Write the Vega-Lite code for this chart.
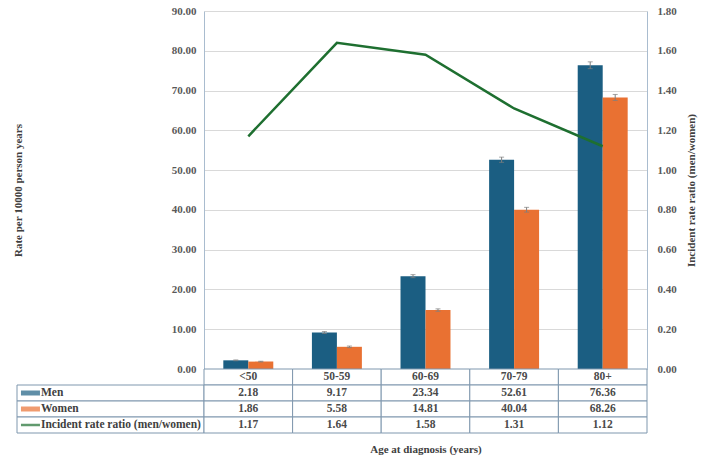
{
  "$schema": "https://vega.github.io/schema/vega-lite/v6.json",
  "padding": {"left": 12, "top": 5, "right": 5, "bottom": 5},
  "background": "white",
  "config": {
    "font": "Liberation Serif",
    "view": {"stroke": null},
    "axis": {
      "labelFont": "Liberation Serif",
      "titleFont": "Liberation Serif",
      "labelFontWeight": "bold",
      "titleFontWeight": "bold",
      "labelFontSize": 11,
      "titleFontSize": 11,
      "labelColor": "#595959",
      "titleColor": "#404040",
      "labelOverlap": false
    }
  },
  "datasets": {
    "rates": [
      {"age": "<50", "sex": "Men", "rate": 2.18, "lo": 2.08, "hi": 2.28},
      {"age": "50-59", "sex": "Men", "rate": 9.17, "lo": 8.93, "hi": 9.41},
      {"age": "60-69", "sex": "Men", "rate": 23.34, "lo": 22.96, "hi": 23.72},
      {"age": "70-79", "sex": "Men", "rate": 52.61, "lo": 51.96, "hi": 53.26},
      {"age": "80+", "sex": "Men", "rate": 76.36, "lo": 75.5, "hi": 77.22},
      {"age": "<50", "sex": "Women", "rate": 1.86, "lo": 1.77, "hi": 1.95},
      {"age": "50-59", "sex": "Women", "rate": 5.58, "lo": 5.39, "hi": 5.77},
      {"age": "60-69", "sex": "Women", "rate": 14.81, "lo": 14.5, "hi": 15.12},
      {"age": "70-79", "sex": "Women", "rate": 40.04, "lo": 39.44, "hi": 40.64},
      {"age": "80+", "sex": "Women", "rate": 68.26, "lo": 67.5, "hi": 69.02}
    ],
    "ratio": [
      {"age": "<50", "ratio": 1.17},
      {"age": "50-59", "ratio": 1.64},
      {"age": "60-69", "ratio": 1.58},
      {"age": "70-79", "ratio": 1.31},
      {"age": "80+", "ratio": 1.12}
    ],
    "series": [
      {"row": "Men"},
      {"row": "Women"},
      {"row": "Incident rate ratio (men/women)"}
    ]
  },
  "columns": 2,
  "spacing": 0,
  "bounds": "flush",
  "resolve": {"scale": {"x": "independent", "y": "independent"}},
  "concat": [
    {
      "width": 187,
      "height": 358,
      "data": {"values": []},
      "mark": {"type": "rect", "opacity": 0}
    },
    {
      "width": 443,
      "height": 358,
      "resolve": {"scale": {"y": "independent"}},
      "layer": [
        {
          "data": {"name": "rates"},
          "encoding": {
            "x": {
              "field": "age",
              "type": "nominal",
              "scale": {"domain": ["<50", "50-59", "60-69", "70-79", "80+"], "paddingInner": 0.436, "paddingOuter": 0.218},
              "axis": {"labels": false, "ticks": false, "domain": false, "grid": false, "title": null}
            },
            "xOffset": {"field": "sex", "type": "nominal", "scale": {"domain": ["Men", "Women"], "paddingInner": 0, "paddingOuter": 0}}
          },
          "layer": [
            {
              "mark": {"type": "bar"},
              "encoding": {
                "y": {
                  "field": "rate",
                  "type": "quantitative",
                  "title": "Rate per 10000 person years",
                  "scale": {"domain": [0, 90]},
                  "axis": {
                    "orient": "left",
                    "values": [0, 10, 20, 30, 40, 50, 60, 70, 80, 90],
                    "format": ".2f",
                    "grid": true,
                    "gridColor": "#d9d9d9",
                    "domainColor": "#a9bccf",
                    "ticks": false,
                    "labelPadding": 8,
                    "titlePadding": 148
                  }
                },
                "color": {"field": "sex", "type": "nominal", "scale": {"domain": ["Men", "Women"], "range": ["#1b5e82", "#e97132"]}, "legend": null}
              }
            },
            {
              "mark": {"type": "rule", "color": "#7f7f7f", "strokeWidth": 1},
              "encoding": {
                "y": {
                  "field": "lo",
                  "type": "quantitative",
                  "title": "Rate per 10000 person years",
                  "axis": {
                    "orient": "left",
                    "values": [0, 10, 20, 30, 40, 50, 60, 70, 80, 90],
                    "format": ".2f",
                    "grid": true,
                    "gridColor": "#d9d9d9",
                    "domainColor": "#a9bccf",
                    "ticks": false,
                    "labelPadding": 8,
                    "titlePadding": 148
                  }
                },
                "y2": {"field": "hi"}
              }
            },
            {
              "mark": {"type": "tick", "orient": "horizontal", "size": 5, "thickness": 1, "color": "#7f7f7f"},
              "encoding": {
                "y": {
                  "field": "lo",
                  "type": "quantitative",
                  "title": "Rate per 10000 person years",
                  "axis": {
                    "orient": "left",
                    "values": [0, 10, 20, 30, 40, 50, 60, 70, 80, 90],
                    "format": ".2f",
                    "grid": true,
                    "gridColor": "#d9d9d9",
                    "domainColor": "#a9bccf",
                    "ticks": false,
                    "labelPadding": 8,
                    "titlePadding": 148
                  }
                }
              }
            },
            {
              "mark": {"type": "tick", "orient": "horizontal", "size": 5, "thickness": 1, "color": "#7f7f7f"},
              "encoding": {
                "y": {
                  "field": "hi",
                  "type": "quantitative",
                  "title": "Rate per 10000 person years",
                  "axis": {
                    "orient": "left",
                    "values": [0, 10, 20, 30, 40, 50, 60, 70, 80, 90],
                    "format": ".2f",
                    "grid": true,
                    "gridColor": "#d9d9d9",
                    "domainColor": "#a9bccf",
                    "ticks": false,
                    "labelPadding": 8,
                    "titlePadding": 148
                  }
                }
              }
            }
          ]
        },
        {
          "data": {"name": "ratio"},
          "mark": {"type": "line", "color": "#1e6f30", "strokeWidth": 2.5},
          "encoding": {
            "x": {
              "field": "age",
              "type": "nominal",
              "axis": {"labels": false, "ticks": false, "domain": false, "grid": false, "title": null}
            },
            "y": {
              "field": "ratio",
              "type": "quantitative",
              "title": "Incident rate ratio (men/women)",
              "scale": {"domain": [0, 1.8]},
              "axis": {
                "orient": "right",
                "values": [0, 0.2, 0.4, 0.6, 0.8, 1, 1.2, 1.4, 1.6, 1.8],
                "format": ".2f",
                "grid": false,
                "ticks": false,
                "domainColor": "#a9bccf",
                "labelPadding": 10,
                "titleAngle": -90,
                "titlePadding": 20
              }
            }
          }
        }
      ]
    },
    {
      "width": 187,
      "height": 64,
      "data": {"name": "series"},
      "encoding": {
        "y": {
          "field": "row",
          "type": "nominal",
          "scale": {"domain": ["header", "Men", "Women", "Incident rate ratio (men/women)"], "paddingInner": 0, "paddingOuter": 0},
          "axis": null
        }
      },
      "layer": [
        {
          "mark": {"type": "rect", "fill": "white", "stroke": "#7f97ae", "strokeWidth": 1}
        },
        {
          "transform": [{"filter": "datum.row !== 'Incident rate ratio (men/women)'"}],
          "mark": {"type": "tick", "orient": "horizontal", "size": 19, "thickness": 5},
          "encoding": {
            "x": {"datum": 0.072, "type": "quantitative", "scale": {"domain": [0, 1]}, "axis": null},
            "color": {"field": "row", "type": "nominal", "scale": {"domain": ["Men", "Women"], "range": ["#1b5e82", "#e97132"]}, "legend": null}
          }
        },
        {
          "transform": [{"filter": "datum.row === 'Incident rate ratio (men/women)'"}],
          "mark": {"type": "tick", "orient": "horizontal", "size": 19, "thickness": 2.5, "color": "#1e6f30"},
          "encoding": {
            "x": {"datum": 0.072, "type": "quantitative"}
          }
        },
        {
          "mark": {"type": "text", "align": "left", "baseline": "middle", "fontWeight": "bold", "fontSize": 11.5, "color": "#404040"},
          "encoding": {
            "x": {"datum": 0.128, "type": "quantitative"},
            "text": {"field": "row"}
          }
        }
      ]
    },
    {
      "width": 443,
      "height": 64,
      "encoding": {
        "x": {
          "field": "age",
          "type": "nominal",
          "scale": {"domain": ["<50", "50-59", "60-69", "70-79", "80+"], "paddingInner": 0, "paddingOuter": 0},
          "axis": {"labels": false, "ticks": false, "domain": false, "grid": false, "title": "Age at diagnosis (years)", "titlePadding": 10}
        }
      },
      "layer": [
        {
          "data": {"name": "ratio"},
          "encoding": {
            "y": {
              "datum": "header",
              "type": "nominal",
              "scale": {"domain": ["header", "Men", "Women", "Incident rate ratio (men/women)"], "paddingInner": 0, "paddingOuter": 0},
              "axis": null
            }
          },
          "layer": [
            {"mark": {"type": "rect", "fill": "white", "stroke": "#7f97ae", "strokeWidth": 1}},
            {
              "mark": {"type": "text", "fontWeight": "bold", "fontSize": 11.5, "color": "#4a4a4a", "baseline": "middle"},
              "encoding": {"text": {"field": "age"}}
            }
          ]
        },
        {
          "data": {"name": "rates"},
          "encoding": {"y": {"field": "sex", "type": "nominal"}},
          "layer": [
            {"mark": {"type": "rect", "fill": "white", "stroke": "#7f97ae", "strokeWidth": 1}},
            {
              "mark": {"type": "text", "fontWeight": "bold", "fontSize": 11.5, "color": "#4a4a4a", "baseline": "middle"},
              "encoding": {"text": {"field": "rate", "type": "quantitative", "format": ".2f"}}
            }
          ]
        },
        {
          "data": {"name": "ratio"},
          "encoding": {"y": {"datum": "Incident rate ratio (men/women)", "type": "nominal"}},
          "layer": [
            {"mark": {"type": "rect", "fill": "white", "stroke": "#7f97ae", "strokeWidth": 1}},
            {
              "mark": {"type": "text", "fontWeight": "bold", "fontSize": 11.5, "color": "#4a4a4a", "baseline": "middle"},
              "encoding": {"text": {"field": "ratio", "type": "quantitative", "format": ".2f"}}
            }
          ]
        }
      ]
    }
  ]
}
